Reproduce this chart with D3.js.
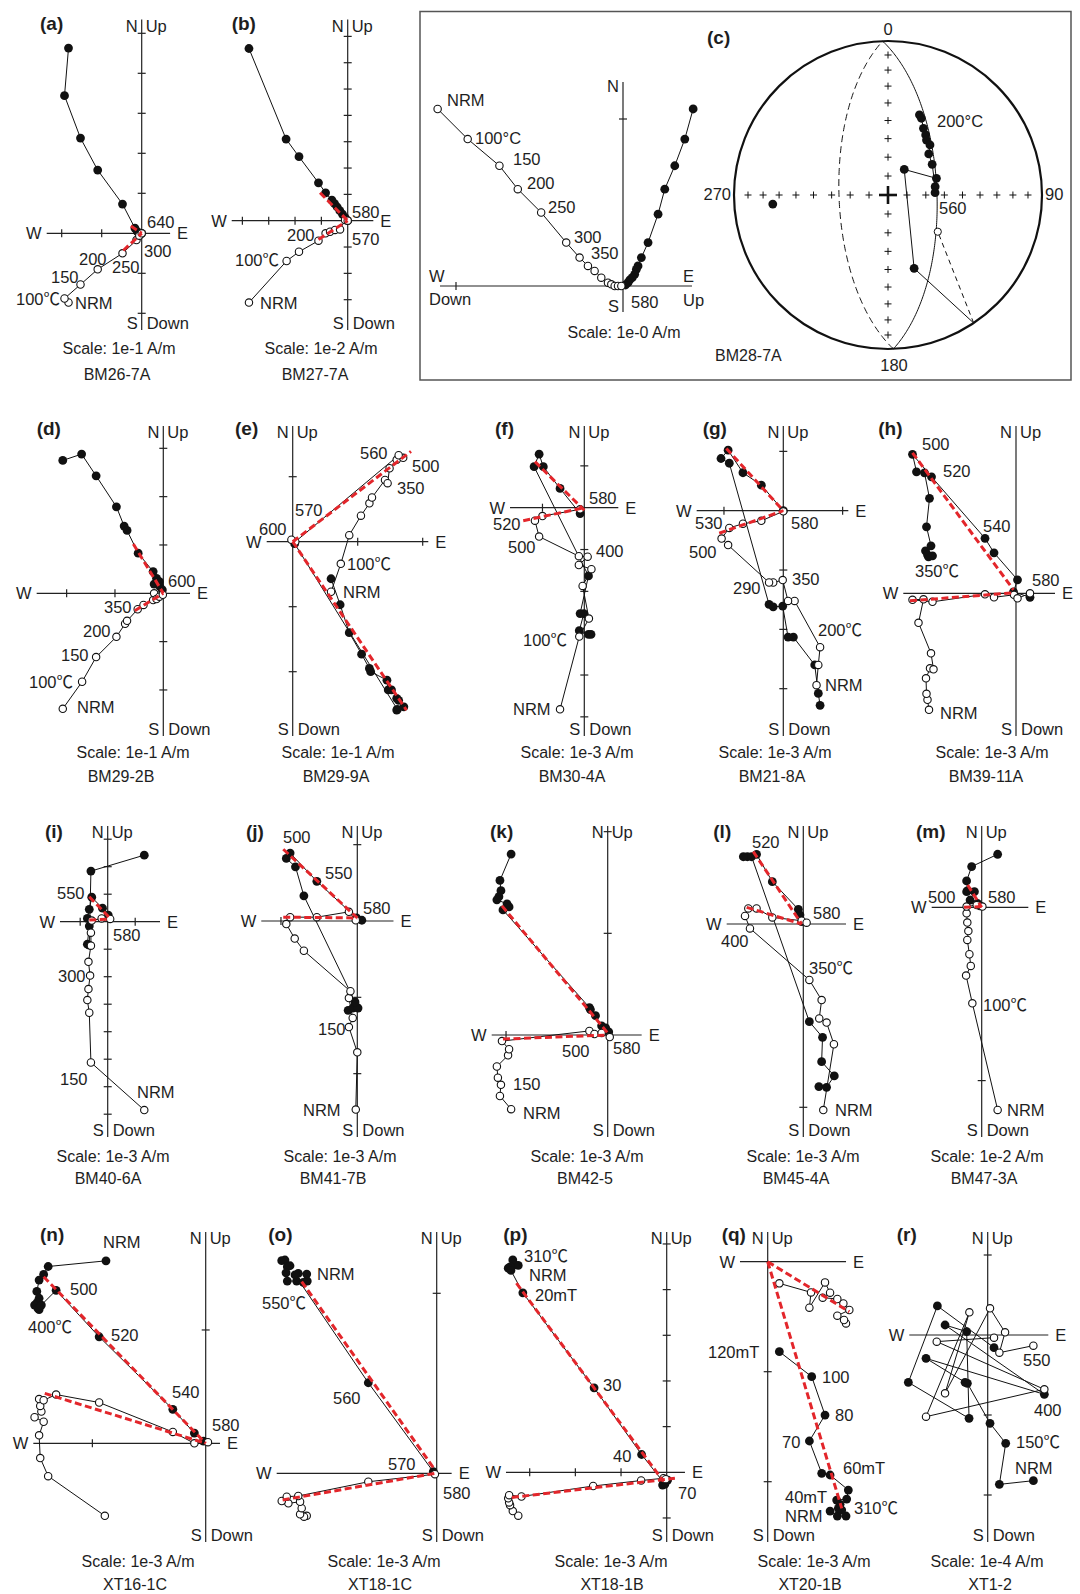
<!DOCTYPE html>
<html>
<head>
<meta charset="utf-8">
<script src="https://cdn.jsdelivr.net/npm/d3@7/dist/d3.min.js"></script>
<style>
  body { margin: 0; background: #fff; }
  svg { display: block; }
  text { font-family: 'Liberation Sans', Arial, 'Noto Sans CJK SC', sans-serif; fill: #1e1e1e; }
</style>
</head>
<body>
<svg id="fig" width="1080" height="1594"></svg>
<script>
// ---------------------------------------------------------------------------
// Specimen data. For each orthogonal plot: hz = horizontal-plane projection
// (filled symbols, [E, N]); vt = vertical-plane projection (open symbols,
// [E, Up]); fit = principal-component lines. Units are axis tick intervals.
// ---------------------------------------------------------------------------
const specimens = ["BM26-7A","BM27-7A","BM28-7A","BM29-2B","BM29-9A","BM30-4A","BM21-8A","BM39-11A","BM40-6A",
                   "BM41-7B","BM42-5","BM45-4A","BM47-3A","XT16-1C","XT18-1C","XT18-1B","XT20-1B","XT1-2"];
const scaleLabels = ["1e-1","1e-2","1e-0","1e-1","1e-1","1e-3","1e-3","1e-3","1e-3",
                     "1e-3","1e-3","1e-3","1e-2","1e-3","1e-3","1e-3","1e-3","1e-4"];

const hzA = [[-1.83,4.63],[-1.93,3.44],[-1.53,2.38],[-1.10,1.58],[-0.48,0.73],[-0.17,0.13],[-0.11,0.04],[-0.04,-0.02],[0,0]];
const vtA = [[-1.83,-1.73],[-1.93,-1.63],[-1.53,-1.28],[-1.10,-0.90],[-0.48,-0.50],[-0.13,-0.17],[-0.06,-0.06],[0,0]];
const fitA = [[[-0.27,0.18],[0,0]],[[-0.46,-0.43],[0,0]]];

const hzB = [[-3.75,6.54],[-2.34,3.10],[-1.85,2.43],[-1.11,1.44],[-0.84,1.06],[-0.60,0.78],[-0.50,0.65],[-0.40,0.52],[-0.30,0.38],[-0.20,0.25],[-0.10,0.12],[0,0]];
const vtB = [[-3.75,-3.11],[-2.32,-1.53],[-1.85,-1.18],[-1.11,-0.76],[-0.84,-0.48],[-0.67,-0.42],[-0.48,-0.35],[-0.29,-0.33],[-0.10,0.03],[0,0]];
const fitB = [[[-1.05,1.06],[0,0]],[[-1.11,-0.71],[0,0]]];

const hzC = [[0.42,1.06],[0.37,0.88],[0.31,0.72],[0.25,0.58],[0.21,0.43],[0.15,0.26],[0.11,0.17],[0.09,0.12],[0.08,0.10],[0.07,0.07],[0.055,0.05],[0.04,0.036],[0.03,0.02],[0.015,0.006]];
const vtC = [[-1.11,1.06],[-0.93,0.88],[-0.74,0.72],[-0.63,0.58],[-0.49,0.44],[-0.34,0.26],[-0.26,0.17],[-0.21,0.12],[-0.17,0.09],[-0.13,0.05],[-0.09,0.02],[-0.07,0.01],[-0.05,0],[-0.03,0],[-0.01,0]];
const fitC = [];

const hzD = [[-2.08,2.75],[-1.69,2.88],[-1.39,2.43],[-0.97,1.79],[-0.81,1.39],[-0.75,1.30],[-0.52,0.83],[-0.21,0.45],[-0.14,0.31],[-0.08,0.24],[-0.19,0.19],[-0.07,0.14],[-0.02,0.07]];
const vtD = [[-2.08,-2.39],[-1.68,-1.83],[-1.39,-1.32],[-0.97,-0.90],[-0.79,-0.63],[-0.75,-0.57],[-0.53,-0.33],[-0.41,-0.24],[-0.21,-0.14],[-0.19,0.0],[-0.14,-0.12],[-0.08,-0.07],[-0.01,-0.03]];
const fitD = [[[-0.62,1.02],[0,0]],[[-0.59,-0.36],[0,0]]];

const hzE = [[0.59,-0.57],[0.73,-0.97],[0.87,-1.40],[1.06,-1.73],[1.18,-1.95],[1.20,-2.00],[1.45,-2.13],[1.47,-2.28],[1.52,-2.28],[1.60,-2.41],[1.63,-2.44],[1.71,-2.54],[1.60,-2.59],[1.61,-2.58],[0.03,-0.03]];
const vtE = [[0.59,-0.77],[0.74,-0.34],[0.87,0.10],[1.05,0.40],[1.18,0.59],[1.22,0.68],[1.42,0.95],[1.46,0.90],[1.49,1.13],[1.60,1.26],[1.70,1.29],[1.63,1.33],[0.04,0.0],[-0.02,0.03]];
const fitE = [[[0,0],[1.82,1.39]],[[0,0],[1.75,-2.59]]];

const hzF = [[0.10,-3.03],[0.16,-3.03],[-0.12,-2.94],[-0.01,-2.53],[-0.10,-2.53],[0.10,-1.63],[-1.20,0.98],[-1.08,1.28],[-0.98,0.98],[-0.58,0.46],[-0.10,-0.14]];
const vtF = [[-0.58,-4.82],[-0.12,-3.08],[0.11,-2.65],[-0.04,-1.87],[0.17,-1.47],[-0.13,-1.37],[0.08,-1.17],[-0.13,-1.16],[-1.08,-0.69],[-1.18,-0.31],[-1.00,-0.20],[-0.10,-0.04]];
const fitF = [[[-1.18,1.10],[0,-0.06]],[[-1.46,-0.31],[0,0]]];

const hzG = [[0.62,-3.28],[0.59,-3.08],[0.53,-2.60],[0.17,-2.13],[0.08,-2.13],[-0.01,-1.61],[-0.17,-1.62],[-0.24,-1.58],[-0.91,0.80],[-1.05,0.88],[-0.93,1.02],[-0.68,0.64],[-0.37,0.43],[0,0]];
const vtG = [[0.56,-2.94],[0.59,-2.60],[0.62,-2.30],[0.19,-1.52],[0.08,-1.52],[-0.01,-1.17],[-0.17,-1.21],[-0.24,-1.21],[-0.93,-0.58],[-1.04,-0.47],[-0.91,-0.29],[-0.68,-0.22],[-0.37,-0.17],[0,-0.01]];
const fitG = [[[-0.96,1.05],[0,0]],[[-1.08,-0.38],[0,0]]];

const hzH = [[-1.75,0.73],[-1.67,0.75],[-1.77,0.77],[-1.81,0.85],[-1.70,0.95],[-1.79,1.33],[-1.73,1.90],[-1.83,2.41],[-1.99,2.43],[-2.07,2.78],[-1.69,2.33],[-0.62,1.10],[-0.44,0.81],[0.03,0.27],[-0.05,0.03],[0.28,-0.08]];
const vtH = [[-1.74,-2.33],[-1.77,-2.13],[-1.79,-2.01],[-1.80,-1.70],[-1.72,-1.50],[-1.65,-1.52],[-1.70,-1.20],[-1.95,-0.59],[-1.85,-0.12],[-2.07,-0.13],[-1.67,-0.17],[-0.62,-0.02],[-0.44,-0.08],[-0.04,-0.03],[0.03,-0.10],[0.28,0]];
const fitH = [[[-2.07,2.81],[-0.05,0.07]],[[-2.12,-0.15],[-0.05,0.01]]];

const hzI = [[1.33,2.42],[-0.61,1.84],[-0.67,-0.85],[-0.74,-0.82],[-0.67,-0.16],[-0.74,0.12],[-0.67,0.45],[-0.58,0.89],[-0.19,0.49],[0.02,0.24]];
const vtI = [[1.33,-6.85],[-0.61,-5.12],[-0.67,-3.31],[-0.74,-2.85],[-0.70,-2.45],[-0.64,-1.96],[-0.70,-1.46],[-0.61,-0.87],[-0.61,-0.40],[-0.58,0.04],[-0.22,0.12],[0.09,0.10]];
const fitI = [[[-0.67,0.91],[0.09,0.12]],[[-0.67,0.06],[0.09,0.10]]];

const hzJ = [[-0.12,-1.17],[-0.06,-1.14],[0.01,-1.14],[-0.03,-1.06],[-0.70,0.33],[-0.81,0.71],[-0.93,0.82],[-0.88,0.89],[-0.53,0.52],[-0.01,0.04],[0.06,0.01]];
const vtJ = [[-0.02,-2.47],[0,-1.72],[-0.11,-1.39],[-0.06,-1.27],[-0.11,-1.01],[-0.09,-0.92],[-0.70,-0.39],[-0.82,-0.23],[-0.93,-0.04],[-0.88,0.05],[-0.53,0.05],[-0.11,0.12],[-0.02,0.01]];
const fitJ = [[[-0.97,0.94],[0,0.04]],[[-0.97,0.05],[0,0.04]]];

const hzK = [[-0.95,1.78],[-1.06,1.52],[-1.05,1.42],[-1.07,1.36],[-1.09,1.33],[-0.99,1.29],[-0.97,1.26],[-1.03,1.23],[-0.18,0.27],[-0.17,0.25],[-0.12,0.19],[-0.06,0.09],[-0.02,0.07],[0.01,0.03]];
const vtK = [[-0.95,-0.73],[-1.06,-0.60],[-1.05,-0.49],[-1.08,-0.42],[-1.09,-0.31],[-0.98,-0.20],[-0.97,-0.14],[-1.04,-0.06],[-0.18,0.04],[-0.13,0.01],[-0.06,0.02],[0.02,-0.02]];
const fitK = [[[-1.04,1.27],[0,0.02]],[[-1.03,-0.04],[0,0]]];

const hzL = [[0.085,-0.887],[0.127,-0.891],[0.169,-0.829],[0.10,-0.751],[0.105,-0.618],[0.033,-0.533],[-0.282,0.367],[-0.305,0.367],[-0.327,0.367],[-0.255,0.38],[-0.169,0.231],[-0.027,0.08],[-0.018,0.049],[-0.009,0.013]];
const vtL = [[0.109,-1.015],[0.167,-0.656],[0.127,-0.538],[0.087,-0.515],[0.10,-0.415],[0.033,-0.305],[-0.291,-0.024],[-0.318,0.044],[-0.30,0.085],[-0.255,0.085],[-0.169,0.036],[-0.009,0.018],[0.018,0.007]];
const fitL = [[[-0.273,0.395],[-0.009,0]],[[-0.309,0.091],[-0.009,0]]];

const hzM = [[0.092,0.306],[-0.058,0.235],[-0.087,0.152],[-0.081,0.096],[-0.087,0.09],[-0.042,0.09],[-0.067,0.042],[-0.025,0.023],[-0.01,0.008]];
const vtM = [[0.092,-1.169],[-0.054,-0.554],[-0.09,-0.394],[-0.063,-0.338],[-0.071,-0.271],[-0.083,-0.188],[-0.077,-0.137],[-0.083,-0.088],[-0.087,-0.035],[-0.087,0.004],[-0.029,0.013],[0.004,0.004]];
const fitM = [[[-0.081,0.129],[0,0]],[[-0.102,0],[0,0.004]]];

const hzN = [[-0.88,1.61],[-1.39,1.56],[-1.43,1.49],[-1.47,1.44],[-1.49,1.34],[-1.47,1.28],[-1.49,1.24],[-1.51,1.22],[-1.48,1.19],[-1.47,1.18],[-1.45,1.22],[-1.32,1.35],[-0.94,0.94],[-0.29,0.30],[-0.10,0.09],[-0.02,0.02]];
const vtN = [[-0.89,-0.64],[-1.39,-0.29],[-1.46,-0.13],[-1.47,0.07],[-1.43,0.19],[-1.51,0.23],[-1.45,0.28],[-1.46,0.33],[-1.47,0.39],[-1.43,0.38],[-1.32,0.43],[-0.94,0.36],[-0.29,0.10],[-0.10,0],[0.02,0.01]];
const fitN = [[[-1.43,1.47],[0,0]],[[-1.42,0.44],[0,0]]];

const hzO = [[-0.861,1.181],[-0.843,1.185],[-0.83,1.148],[-0.815,1.153],[-0.837,1.114],[-0.83,1.068],[-0.778,1.068],[-0.741,1.061],[-0.719,1.068],[-0.722,1.107],[-0.769,1.111],[-0.787,1.102],[-0.38,0.503],[-0.019,0.009]];
const vtO = [[-0.722,-0.236],[-0.737,-0.241],[-0.759,-0.228],[-0.75,-0.194],[-0.759,-0.158],[-0.824,-0.167],[-0.861,-0.154],[-0.833,-0.13],[-0.769,-0.126],[-0.38,-0.047],[-0.01,-0.005]];
const fitO = [[[-0.75,1.065],[-0.009,0.018]],[[-0.856,-0.148],[-0.009,0]]];

const hzP = [[-3.25,4.53],[-3.32,4.54],[-3.37,4.65],[-3.43,4.50],[-3.47,4.47],[-3.41,4.42],[-3.15,3.93],[-1.59,1.85],[-0.55,0.39],[-0.07,-0.22],[0.02,-0.17],[-0.04,-0.26],[-0.09,-0.28]];
const vtP = [[-3.25,-0.95],[-3.37,-0.85],[-3.43,-0.72],[-3.45,-0.66],[-3.47,-0.57],[-3.45,-0.50],[-3.18,-0.53],[-1.61,-0.30],[-0.56,-0.18],[-0.07,-0.13],[-0.02,-0.15]];
const fitP = [[[-3.29,4.14],[-0.07,-0.20]],[[-3.39,-0.55],[0.18,-0.13]]];

const hzQ = [[0.567,-2.267],[0.633,-2.312],[0.712,-2.312],[0.673,-2.258],[0.642,-2.242],[0.658,-2.206],[0.627,-2.167],[0.718,-2.158],[0.733,-2.076],[0.567,-1.939],[0.491,-1.924],[0.379,-1.63],[0.521,-1.394],[0.40,-1.045],[0.106,-0.818]];
const vtQ = [[0.712,-0.561],[0.694,-0.53],[0.633,-0.491],[0.742,-0.439],[0.688,-0.379],[0.633,-0.339],[0.50,-0.327],[0.567,-0.282],[0.521,-0.188],[0.379,-0.418],[0.394,-0.279],[0.106,-0.197]];
const fitQ = [[[0,0],[0.673,-2.242]],[[0,0],[0.742,-0.455]]];

const hzR = [[0.571,-1.821],[0.146,-1.867],[0.225,-1.354],[0.029,-1.104],[-0.254,-0.604],[-0.283,-0.592],[-0.771,-0.292],[0.708,-0.742],[-0.533,0.125],[-0.263,0.042],[-0.233,-1.042],[-0.992,-0.592],[-0.629,0.363],[0.079,-0.158]];
const vtR = [[0.571,-0.133],[0.146,-0.221],[0.217,0.033],[0.029,0.333],[-0.533,-0.729],[-0.229,0.283],[-0.771,-1.021],[0.708,-0.679],[-0.637,-0.083],[0.079,-0.033]];
const fitR = [];

// Stereographic (equal-area) data for BM28-7A: [declination, inclination]
const stSteps = [[21.4,43.4],[23.5,44.8],[28.0,49.4],[32.1,52.0],[35.0,54.1],[40.0,55.1],[44.8,59.2],[55.2,61.4],
                 [80.0,64.6],[87.2,65.0],[71.0,62.8],[32.4,74.0],[160.4,48.1],[126.4,-57.0]];
const stLone = [[265.5,25.9]];
const stPlane = [88, 64];   // remagnetization great circle: dip direction, dip

// ---------------------------------------------------------------------------
// Layout
// ---------------------------------------------------------------------------
const rows = [
  {n: 31.5, s: 329, scale: 354, name: 380},
  {n: 438, s: 735, scale: 758, name: 782},
  {n: 838, s: 1136, scale: 1161.5, name: 1184},
  {n: 1244, s: 1541, scale: 1567, name: 1590}
];

const panels = [
  {id:'a', row:0, ox:141.7, oy:233.3, u:40,    xExt:[-2.375,0.71], xTicks:[-2,-1], yTicks:[5,4,3,2,1,-1,-2], hz:hzA, vt:vtA, fits:fitA, letter:[40,30], scaleX:119, nameX:117,
   notes:[["640",147,228],["300",144,257],["250",112,273],["200",79,265],["150",51,283],["100℃",16,305],["NRM",75,309]]},
  {id:'b', row:0, ox:347.7, oy:220.7, u:26.33, xExt:[-4.405,0.973], xTicks:[-4,-3,-2,-1], yTicks:[7,6,5,4,3,2,1,-1,-2,-3], hz:hzB, vt:vtB, fits:fitB, letter:[231.7,30], scaleX:321, nameX:315,
   notes:[["580",352,218],["570",352,245],["200",287,241],["100℃",235,266],["NRM",260,309]]},
  {id:'c', row:0, ox:623, oy:286, u:167, xExt:[-1.096,0.413], yExt:[-0.156,1.222], xTicks:[-1], yTicks:[1], hz:hzC, vt:vtC, fits:fitC, letter:null, scaleX:624, scaleY:338, nameX:null,
   notes:[["NRM",447,106],["100°C",475,144],["150",513,165],["200",527,189],["250",548,213],["300",574,243],["350",591,259],["580",631,308]],
   axisText:[["N",619,91.5,'end'],["S",619,311.5,'end'],["W",429,282,'start'],["Down",429,305,'start'],["E",683,282,'start'],["Up",683,306,'start']]},
  {id:'d', row:1, ox:163.3, oy:593.3, u:48.33, xExt:[-2.62,0.552], xTicks:[-2,-1], yTicks:[3,2,1,-1,-2], hz:hzD, vt:vtD, fits:fitD, letter:[36.7,434.5], scaleX:133, nameX:121,
   notes:[["600",168,587],["350",104,613],["200",83,637],["150",61,661],["100℃",29,688],["NRM",77,713]]},
  {id:'e', row:1, ox:292.7, oy:541.7, u:65, xExt:[-0.4,2.086], xTicks:[1,2], yTicks:[1,-1,-2], hz:hzE, vt:vtE, fits:fitE, letter:[235,434.5], scaleX:338, nameX:336,
   notes:[["560",360,459],["500",412,472],["350",397,494],["570",295,516],["600",259,535],["100℃",347,570],["NRM",343,598]]},
  {id:'f', row:1, ox:584.3, oy:507.7, u:41.83, xExt:[-1.776,0.813], xTicks:[-1], yTicks:[1,-1,-2,-3,-4,-5], hz:hzF, vt:vtF, fits:fitF, letter:[495,434.5], scaleX:577, nameX:572,
   notes:[["580",589,504],["520",493,530],["500",508,553],["400",596,557],["100℃",523,646],["NRM",513,715]]},
  {id:'g', row:1, ox:783.3, oy:510.7, u:59.33, xExt:[-1.46,1.096], xTicks:[-1,1], yTicks:[1,-1,-2,-3], hz:hzG, vt:vtG, fits:fitG, letter:[702.7,434.5], scaleX:775, nameX:772,
   notes:[["530",695,529],["500",689,558],["580",791,529],["350",792,585],["290",733,594],["200℃",818,636],["NRM",825,691]]},
  {id:'h', row:1, ox:1016, oy:593.3, u:50, xExt:[-2.254,0.78], xTicks:[], yTicks:[], hz:hzH, vt:vtH, fits:fitH, letter:[878.3,434.5], scaleX:992, nameX:986,
   notes:[["500",922,450],["520",943,477],["540",983,532],["350℃",915,577],["580",1032,586],["NRM",940,719]]},
  {id:'i', row:2, ox:107.7, oy:921.7, u:27.5, xExt:[-1.735,1.902], xTicks:[-1,1], yTicks:[3,2,1,-1,-2,-3,-4,-5,-6,-7], hz:hzI, vt:vtI, fits:fitI, letter:[45,838], scaleX:113, nameX:108,
   notes:[["550",57,899],["580",113,941],["300",58,982],["150",60,1085],["NRM",137,1098]]},
  {id:'j', row:2, ox:357.3, oy:921, u:76.33, xExt:[-1.258,0.474], xTicks:[-1], yTicks:[1,-1,-2], hz:hzJ, vt:vtJ, fits:fitJ, letter:[246,838], scaleX:340, nameX:333,
   notes:[["500",283,843],["550",325,879],["580",363,914],["150",318,1035],["NRM",303,1116]]},
  {id:'k', row:2, ox:607.7, oy:1035, u:101.67, xExt:[-1.141,0.334], xTicks:[-1], yTicks:[2,1], hz:hzK, vt:vtK, fits:fitK, letter:[490,838], scaleX:587, nameX:585,
   notes:[["500",562,1057],["580",613,1054],["150",513,1090],["NRM",523,1119]]},
  {id:'l', row:2, ox:803.3, oy:924, u:183.3, xExt:[-0.418,0.233], xTicks:[], yTicks:[-1], hz:hzL, vt:vtL, fits:fitL, letter:[713.3,838], scaleX:803, nameX:796,
   notes:[["520",752,848],["580",813,919],["400",721,947],["350℃",809,974],["NRM",835,1116]]},
  {id:'m', row:2, ox:981.7, oy:907.3, u:173.3, xExt:[-0.2885,0.269], xTicks:[], yTicks:[-1], hz:hzM, vt:vtM, fits:fitM, letter:[916,838], scaleX:987, nameX:984,
   notes:[["500",928,903],["580",988,903],["100℃",983,1011],["NRM",1007,1116]]},
  {id:'n', row:3, ox:205.7, oy:1443.3, u:113.33, xExt:[-1.521,0.126], xTicks:[-1], yTicks:[1], hz:hzN, vt:vtN, fits:fitN, letter:[40,1240.5], scaleX:138, nameX:135,
   notes:[["NRM",103,1248],["500",70,1295],["400℃",28,1333],["520",111,1341],["540",172,1398],["580",212,1431]]},
  {id:'o', row:3, ox:436.7, oy:1473.3, u:180, xExt:[-0.889,0.083], xTicks:[], yTicks:[1], hz:hzO, vt:vtO, fits:fitO, letter:[268.3,1240.5], scaleX:384, nameX:380,
   notes:[["NRM",317,1280],["550℃",262,1309],["560",333,1404],["570",388,1470],["580",443,1499]]},
  {id:'p', row:3, ox:666.7, oy:1472.3, u:45.67, xExt:[-3.519,0.4], xTicks:[-3,-2,-1], yTicks:[5,4,3,2,1,-1], hz:hzP, vt:vtP, fits:fitP, letter:[503.3,1240.5], scaleX:611, nameX:612,
   notes:[["310℃",524,1262],["NRM",529,1281],["20mT",535,1301],["30",603,1391],["40",613,1462],["70",678,1499]]},
  {id:'q', row:3, ox:767.7, oy:1261.7, u:110, xExt:[-0.252,0.712], xTicks:[], yTicks:[-1,-2], hz:hzQ, vt:vtQ, fits:fitQ, letter:[721.7,1240.5], scaleX:814, nameX:810,
   notes:[["120mT",708,1358],["100",822,1383],["80",835,1421],["70",782,1448],["60mT",843,1474],["40mT",785,1503],["NRM",785,1522],["310℃",854,1514]]},
  {id:'r', row:3, ox:987.7, oy:1335, u:80, xExt:[-0.98,0.7575], xTicks:[], yTicks:[1,-1,-2], hz:hzR, vt:vtR, fits:fitR, letter:[896.7,1240.5], scaleX:987, nameX:990,
   notes:[["550",1023,1366],["400",1034,1416],["150℃",1016,1448],["NRM",1015,1474]]}
];

const stereo = {cx: 888, cy: 195, R: 154};

// ---------------------------------------------------------------------------
const svg = d3.select('#fig');
const FS = 16.5;
const INK = '#111';
const RED = '#e3262b';

function label(g, str, x, y, anchor = 'start', size = FS, weight = 'normal') {
  return g.append('text').attr('x', x).attr('y', y).attr('text-anchor', anchor)
    .attr('font-size', size).attr('font-weight', weight).text(str);
}

function drawZijderveld(p, idx) {
  const g = svg.append('g').attr('class', 'panel-' + p.id);
  const x = d3.scaleLinear().domain([0, 1]).range([p.ox, p.ox + p.u]);
  const y = d3.scaleLinear().domain([0, 1]).range([p.oy, p.oy - p.u]);
  const row = rows[p.row];
  const yTop = p.yExt ? p.yExt[1] : y.invert(row.n - 12);
  const yBot = p.yExt ? p.yExt[0] : y.invert(row.s + 1);

  // axes and ticks
  const ax = g.append('g').attr('stroke', '#222').attr('stroke-width', 1.2);
  ax.append('line').attr('x1', x(p.xExt[0])).attr('x2', x(p.xExt[1])).attr('y1', y(0)).attr('y2', y(0));
  ax.append('line').attr('x1', x(0)).attr('x2', x(0)).attr('y1', y(yTop)).attr('y2', y(yBot));
  ax.selectAll(null).data(p.xTicks).join('line')
    .attr('x1', d => x(d)).attr('x2', d => x(d)).attr('y1', y(0) - 4).attr('y2', y(0) + 4);
  ax.selectAll(null).data(p.yTicks).join('line')
    .attr('x1', x(0) - 4).attr('x2', x(0) + 4).attr('y1', d => y(d)).attr('y2', d => y(d));

  // demagnetization paths
  const line = d3.line().x(d => x(d[0])).y(d => y(d[1]));
  g.append('path').attr('d', line(p.hz)).attr('fill', 'none').attr('stroke', INK).attr('stroke-width', 1);
  g.append('path').attr('d', line(p.vt)).attr('fill', 'none').attr('stroke', INK).attr('stroke-width', 1);
  g.selectAll(null).data(p.hz).join('circle')
    .attr('cx', d => x(d[0])).attr('cy', d => y(d[1])).attr('r', 4.4).attr('fill', INK);
  g.selectAll(null).data(p.vt).join('circle')
    .attr('cx', d => x(d[0])).attr('cy', d => y(d[1])).attr('r', 3.7)
    .attr('fill', '#fff').attr('stroke', INK).attr('stroke-width', 1.1);

  // fitted components
  g.selectAll(null).data(p.fits).join('line')
    .attr('x1', d => x(d[0][0])).attr('y1', d => y(d[0][1]))
    .attr('x2', d => x(d[1][0])).attr('y2', d => y(d[1][1]))
    .attr('stroke', RED).attr('stroke-width', 3).attr('stroke-dasharray', '7,3.5');

  // axis captions
  if (p.axisText) {
    p.axisText.forEach(t => label(g, t[0], t[1], t[2], t[3]));
  } else {
    label(g, 'N', x(0) - 4, row.n, 'end');
    label(g, 'Up', x(0) + 4, row.n, 'start');
    label(g, 'S', x(0) - 4, row.s, 'end');
    label(g, 'Down', x(0) + 5, row.s, 'start');
    label(g, 'W', x(p.xExt[0]) - 5, y(0) + 6, 'end');
    label(g, 'E', x(p.xExt[1]) + 7, y(0) + 6, 'start');
  }

  // step annotations
  p.notes.forEach(n => label(g, n[0], n[1], n[2]));

  // panel letter, scale and specimen name
  if (p.letter) label(g, '(' + p.id + ')', p.letter[0], p.letter[1], 'start', 19, 'bold');
  label(g, 'Scale: ' + scaleLabels[idx] + ' A/m', p.scaleX, p.scaleY || row.scale, 'middle', 16);
  if (p.nameX !== null) label(g, specimens[idx], p.nameX, row.name, 'middle', 16);
}

function drawStereonet(st) {
  const g = svg.append('g').attr('class', 'stereonet');
  const rad = Math.PI / 180;
  const rS = d3.scaleSqrt().domain([0, 1]).range([0, st.R]);   // equal-area radius
  const proj = ([dec, inc]) => {
    const r = rS(1 - Math.sin(Math.abs(inc) * rad));
    return [st.cx + r * Math.sin(dec * rad), st.cy - r * Math.cos(dec * rad)];
  };
  const toVec = ([dec, inc]) => [Math.cos(inc * rad) * Math.cos(dec * rad), Math.cos(inc * rad) * Math.sin(dec * rad), Math.sin(inc * rad)];
  const toDI = v => [(Math.atan2(v[1], v[0]) / rad + 360) % 360, Math.atan2(v[2], Math.hypot(v[0], v[1])) / rad];

  // frame
  svg.append('rect').attr('x', 420).attr('y', 11.5).attr('width', 651).attr('height', 368.5)
    .attr('fill', 'none').attr('stroke', '#555').attr('stroke-width', 1.5);

  // primitive circle
  g.append('circle').attr('cx', st.cx).attr('cy', st.cy).attr('r', st.R)
    .attr('fill', 'none').attr('stroke', INK).attr('stroke-width', 2.2);

  // inclination ticks along the N, E, S, W radii
  const tickDirs = [];
  [0, 90, 180, 270].forEach(az => d3.range(10, 90, 10).forEach(inc => tickDirs.push([az, inc])));
  const tk = g.append('g').attr('stroke', INK).attr('stroke-width', 1);
  tickDirs.forEach(d => {
    const [px, py] = proj(d);
    tk.append('line').attr('x1', px - 3.5).attr('x2', px + 3.5).attr('y1', py).attr('y2', py);
    tk.append('line').attr('x1', px).attr('x2', px).attr('y1', py - 3.5).attr('y2', py + 3.5);
  });
  const c0 = proj([0, 90]);
  tk.append('line').attr('x1', c0[0] - 9).attr('x2', c0[0] + 9).attr('y1', c0[1]).attr('y2', c0[1]).attr('stroke-width', 2.6);
  tk.append('line').attr('x1', c0[0]).attr('x2', c0[0]).attr('y1', c0[1] - 9).attr('y2', c0[1] + 9).attr('stroke-width', 2.6);

  // great circle of the remagnetization plane
  const [dd, dip] = stPlane;
  const sv = toVec([dd - 90, 0]), dv = toVec([dd, dip]);
  const gcPoint = t => {
    const c = Math.cos(t * rad), s = Math.sin(t * rad);
    return toDI([c * sv[0] + s * dv[0], c * sv[1] + s * dv[1], c * sv[2] + s * dv[2]]);
  };
  const pline = d3.line().x(d => d[0]).y(d => d[1]);
  g.append('path').attr('d', pline(d3.range(0, 180.5, 1).map(t => proj(gcPoint(t)))))
    .attr('fill', 'none').attr('stroke', INK).attr('stroke-width', 1);
  g.append('path').attr('d', pline(d3.range(180, 360.5, 1).map(t => proj(gcPoint(t)))))
    .attr('fill', 'none').attr('stroke', INK).attr('stroke-width', 1).attr('stroke-dasharray', '7,4');

  // connecting path (crosses the primitive where inclination changes sign)
  const segs = [];
  for (let i = 1; i < stSteps.length; i++) {
    const a = stSteps[i - 1], b = stSteps[i];
    if ((a[1] >= 0) === (b[1] >= 0)) {
      segs.push([proj(a), proj(b), a[1] >= 0]);
    } else {
      const va = toVec(a), vb = toVec(b);
      const t = va[2] / (va[2] - vb[2]);
      const cr = toDI([va[0] + t * (vb[0] - va[0]), va[1] + t * (vb[1] - va[1]), 0]);
      segs.push([proj(a), proj([cr[0], 0]), a[1] >= 0]);
      segs.push([proj([cr[0], 0]), proj(b), b[1] >= 0]);
    }
  }
  g.selectAll(null).data(segs).join('line')
    .attr('x1', d => d[0][0]).attr('y1', d => d[0][1]).attr('x2', d => d[1][0]).attr('y2', d => d[1][1])
    .attr('stroke', INK).attr('stroke-width', 1).attr('stroke-dasharray', d => d[2] ? null : '5,4');

  // directions
  const all = stSteps.concat(stLone);
  g.selectAll(null).data(all.filter(d => d[1] >= 0)).join('circle')
    .attr('cx', d => proj(d)[0]).attr('cy', d => proj(d)[1]).attr('r', 4.4).attr('fill', INK);
  g.selectAll(null).data(all.filter(d => d[1] < 0)).join('circle')
    .attr('cx', d => proj(d)[0]).attr('cy', d => proj(d)[1]).attr('r', 3.6)
    .attr('fill', '#fff').attr('stroke', INK).attr('stroke-width', 1);

  // captions
  label(g, '0', st.cx, 35, 'middle');
  label(g, '180', st.cx + 6, 371, 'middle');
  label(g, '270', 731, 200, 'end');
  label(g, '90', 1045, 200, 'start');
  label(g, '200°C', 937, 127);
  label(g, '560', 939, 214);
  label(g, specimens[2], 715, 361, 'start', 16);
  label(g, '(c)', 707, 44, 'start', 19, 'bold');
}

panels.forEach((p, i) => drawZijderveld(p, i));
drawStereonet(stereo);
</script>
</body>
</html>
